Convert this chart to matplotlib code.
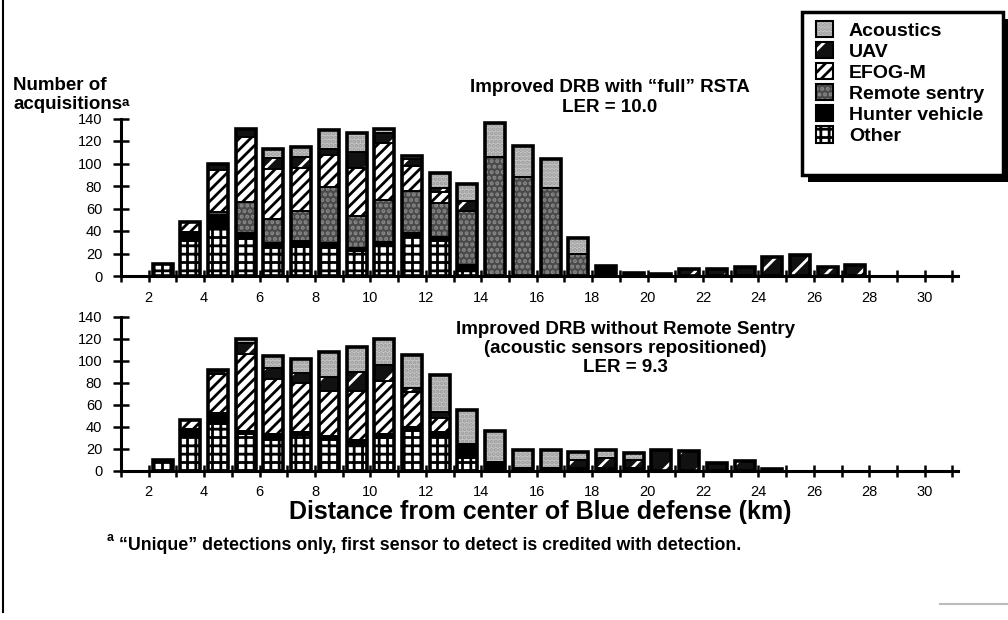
import numpy as np
import matplotlib
matplotlib.use("Agg")
import matplotlib.pyplot as plt
from matplotlib.patches import Patch, Rectangle
from matplotlib.lines import Line2D
from matplotlib.legend_handler import HandlerTuple
from matplotlib import font_manager

plt.rcParams['font.family'] = ['Liberation Sans', 'DejaVu Sans']
plt.rcParams['hatch.linewidth'] = 2.0

# ---- data ----
categories = ['Acoustics', 'UAV', 'EFOG-M', 'Remote sentry', 'Hunter vehicle', 'Other']

# top panel: Improved DRB with "full" RSTA, bins 2-3 km ... 27-28 km
top_km = np.arange(2, 28) + 0.5
top_other = [11, 31, 42, 33, 25, 26, 25, 22, 27, 35, 31, 6, 0, 0, 0, 0, 0, 0, 0, 0, 0, 0, 0, 0, 0, 0]
top_hunter = [0, 8, 12, 5, 4, 5, 4, 3, 3, 3, 4, 4, 0, 0, 0, 0, 9, 3, 2, 0, 0, 0, 0, 0, 0, 0]
top_remote = [0, 0, 3, 28, 22, 27, 50, 28, 38, 38, 30, 48, 106, 88, 78, 20, 0, 0, 0, 0, 0, 0, 0, 0, 0, 0]
top_efog = [0, 9, 37, 58, 44, 38, 29, 43, 50, 22, 10, 0, 0, 0, 0, 0, 0, 0, 0, 0, 0, 0, 0, 0, 0, 0]
top_uav = [0, 0, 6, 7, 10, 10, 5, 14, 9, 6, 3, 9, 0, 0, 0, 0, 0, 0, 0, 6, 6, 8, 17, 19, 8, 10]
top_acoustics = [0, 0, 0, 0, 8, 9, 17, 17, 4, 3, 14, 15, 30, 28, 26, 14, 0, 0, 0, 0, 0, 0, 0, 0, 0, 0]

# bottom panel: without Remote Sentry, bins 2-3 km ... 24-25 km
bot_km = np.arange(2, 25) + 0.5
bot_other = [10, 31, 42, 33, 28, 32, 28, 24, 30, 36, 31, 11, 0, 0, 0, 0, 0, 0, 0, 0, 0, 0, 0]
bot_hunter = [0, 7, 10, 3, 5, 3, 3, 4, 3, 4, 4, 13, 8, 2, 2, 2, 2, 2, 0, 0, 0, 0, 1]
bot_remote = [0] * 23
bot_efog = [0, 8, 36, 70, 50, 45, 41, 44, 48, 31, 13, 0, 0, 0, 0, 0, 0, 0, 0, 0, 0, 0, 0]
bot_uav = [0, 0, 3, 10, 10, 9, 13, 18, 15, 4, 5, 0, 0, 0, 0, 8, 9, 8, 19, 18, 7, 9, 0]
bot_acoustics = [0, 0, 0, 4, 11, 12, 23, 22, 24, 30, 34, 31, 28, 17, 17, 7, 8, 6, 0, 0, 0, 0, 0]

x_ticks = list(range(1, 32))
x_ticklabels = [str(v) if v % 2 == 0 and v <= 30 else '' for v in x_ticks]
y_ticks = list(range(0, 141, 20))

# fill style per category: facecolor, hatch, hatch colour
styles = {
    'Acoustics': ('#c6c6c6', '....', '#9a9a9a'),
    'UAV': ('#111111', '/', 'white'),
    'EFOG-M': ('white', '///', 'black'),
    'Remote sentry': ('#4a4a4a', '...', '#8a8a8a'),
    'Hunter vehicle': ('#000000', None, '#000000'),
    'Other': ('white', '++', 'black'),
}

W, H = 1008, 620
fig = plt.figure(figsize=(W / 100, H / 100), dpi=100)


def px_axes(left, top, right, bottom):
    return fig.add_axes([left / W, 1 - bottom / H, (right - left) / W, (bottom - top) / H])


narrow = 'Liberation Sans Narrow'
have_narrow = any(f.name == narrow for f in font_manager.fontManager.ttflist)
tick_family = [narrow, 'Liberation Sans'] if have_narrow else ['Liberation Sans']
tick_size = 12 if have_narrow else 10.5


def draw_panel(ax, km, stack):
    width = 0.72
    bottom = np.zeros(len(km))
    for name in ['Other', 'Hunter vehicle', 'Remote sentry', 'EFOG-M', 'UAV', 'Acoustics']:
        vals = np.array(stack[name], dtype=float)
        fc, hatch, hc = styles[name]
        ax.bar(km, vals, width, bottom=bottom, color=fc, edgecolor=hc, hatch=hatch, linewidth=0, zorder=2)
        ax.bar(km, vals, width, bottom=bottom, fill=False, edgecolor='black', linewidth=1.2, zorder=3)
        bottom += vals
    ax.bar(km, bottom, width, fill=False, edgecolor='black', linewidth=2.6, zorder=4)

    ax.set_xlim(1, 31.2)
    ax.set_ylim(0, 140)
    for s in ['top', 'right']:
        ax.spines[s].set_visible(False)
    for s in ['left', 'bottom']:
        ax.spines[s].set_linewidth(2.2)
        ax.spines[s].set_zorder(5)
    ax.set_xticks(x_ticks)
    ax.set_xticklabels(x_ticklabels, family=tick_family, fontsize=tick_size)
    ax.set_yticks(y_ticks)
    ax.set_yticklabels([str(v) for v in y_ticks], family=tick_family, fontsize=tick_size)
    ax.tick_params(axis='x', direction='inout', length=9, width=1.8, pad=6)
    ax.tick_params(axis='y', direction='inout', length=11, width=1.8, pad=8)
    ax.set_facecolor('none')


ax1 = px_axes(121, 118.5, 958, 276)
draw_panel(ax1, top_km, {'Other': top_other, 'Hunter vehicle': top_hunter, 'Remote sentry': top_remote,
                         'EFOG-M': top_efog, 'UAV': top_uav, 'Acoustics': top_acoustics})

ax2 = px_axes(121, 316.5, 958, 470.5)
draw_panel(ax2, bot_km, {'Other': bot_other, 'Hunter vehicle': bot_hunter, 'Remote sentry': bot_remote,
                         'EFOG-M': bot_efog, 'UAV': bot_uav, 'Acoustics': bot_acoustics})

# ---- texts ----
bold = dict(fontweight='bold')
fig.text(13 / W, 1 - 86 / H, 'Number of', fontsize=13.5, va='center', ha='left', **bold)
acq = fig.text(13 / W, 1 - 104.5 / H, 'acquisitions', fontsize=13.5, va='center', ha='left', **bold)
ax1.annotate('a', xy=(1.0, 0.25), xycoords=acq, fontsize=9.5, ha='left', va='bottom',
             annotation_clip=False, **bold)

fig.text(610 / W, 1 - 88 / H, 'Improved DRB with \u201cfull\u201d RSTA', fontsize=13.5, ha='center', va='center', **bold)
fig.text(610 / W, 1 - 107 / H, 'LER = 10.0', fontsize=13.5, ha='center', va='center', **bold)

fig.text(625 / W, 1 - 330 / H, 'Improved DRB without Remote Sentry', fontsize=13.5, ha='center', va='center', **bold)
fig.text(625 / W, 1 - 348.5 / H, '(acoustic sensors repositioned)', fontsize=13.5, ha='center', va='center', **bold)
fig.text(625 / W, 1 - 367 / H, 'LER = 9.3', fontsize=13.5, ha='center', va='center', **bold)

fig.text(540 / W, 1 - 512 / H, 'Distance from center of Blue defense (km)', fontsize=18, ha='center', va='center', **bold)

fn = fig.text(119 / W, 1 - 545 / H, '\u201cUnique\u201d detections only, first sensor to detect is credited with detection.',
              fontsize=12.8, ha='left', va='center', **bold)
ax1.annotate('a', xy=(0.0, 0.55), xycoords=fn, xytext=(-9, 0), textcoords='offset points',
             fontsize=9, ha='left', va='bottom', annotation_clip=False, **bold)

# ---- legend (frame with drop shadow drawn by hand) ----
fig.add_artist(Rectangle((808 / W, 1 - 182 / H), 201 / W, 163 / H, transform=fig.transFigure,
                         facecolor='black', edgecolor='none', zorder=8))
fig.add_artist(Rectangle((802 / W, 1 - 175 / H), 201 / W, 163 / H, transform=fig.transFigure,
                         facecolor='white', edgecolor='black', linewidth=2.5, zorder=9))
handles = []
for name in categories:
    fc, hatch, hc = styles[name]
    handles.append((Patch(facecolor=fc, edgecolor=hc, hatch=hatch, linewidth=0),
                    Patch(fill=False, edgecolor='black', linewidth=1.5)))
leg = fig.legend(handles, categories, handler_map={tuple: HandlerTuple(ndivide=1)},
                 loc='upper left', bbox_to_anchor=(812 / W, 1 - 17 / H), frameon=False,
                 prop={'weight': 'bold', 'size': 14}, handlelength=0.9, handleheight=0.9,
                 labelspacing=0.12, handletextpad=0.8, borderpad=0.2, borderaxespad=0)
leg.set_zorder(10)

# page edge line of the scan
fig.add_artist(Line2D([2.5 / W, 2.5 / W], [1 - 612 / H, 1.0], color='black', lw=1.5))
fig.add_artist(Line2D([940 / W, 1.0], [1 - 604 / H, 1 - 604 / H], color='#bbbbbb', lw=1.5))

fig.savefig('out.png', dpi=100)
